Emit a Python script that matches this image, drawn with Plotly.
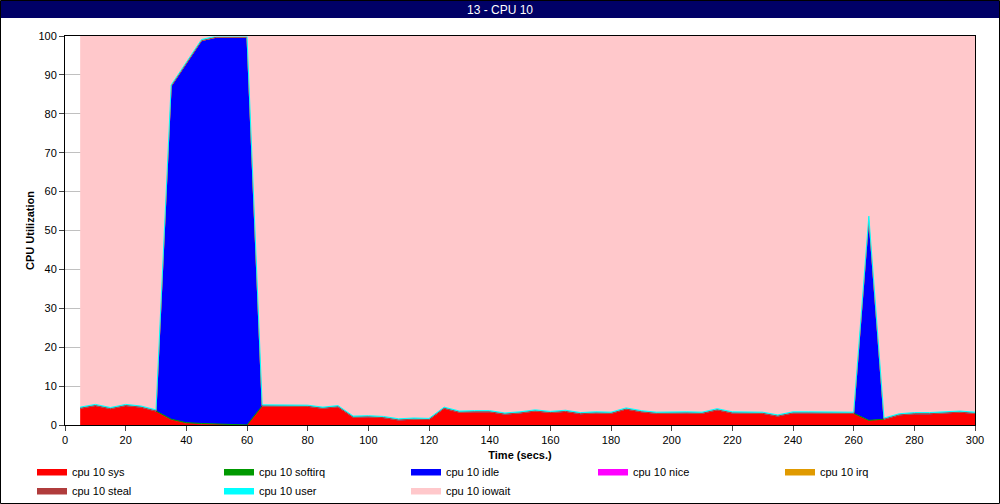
import plotly.graph_objects as go

# time axis (secs.)
time_s = list(range(5, 301, 5))

sys_vals = [4.3, 5.0, 4.2, 5.0, 4.6, 3.6, 1.3, 0.4, 0.2, 0.1, 0.0, 0.0,
            4.9, 4.9, 4.9, 4.8, 4.3, 4.7, 2.0, 2.1, 1.9, 1.3, 1.5, 1.4,
            4.3, 3.3, 3.4, 3.4, 2.8, 3.1, 3.6, 3.2, 3.5, 2.9, 3.1, 3.0,
            4.1, 3.4, 3.0, 3.1, 3.1, 3.0, 3.9, 3.1, 3.0, 3.0, 2.3, 3.1,
            3.1, 3.1, 3.1, 3.0, 1.0, 1.5, 2.6, 2.9, 2.9, 3.1, 3.3, 3.0]

softirq_vals = [0.0] * 6 + [0.2, 0.2, 0.2, 0.2, 0.2, 0.0] + [0.0] * 40 + [0.2] + [0.0] * 7

idle_vals = [0.0] * 6 + [85.6, 92.5, 98.4, 99.4, 99.5, 99.7] + [0.0] * 40 + [52.2] + [0.0] * 7

nice_vals = [0.0] * 60
irq_vals = [0.0] * 60
steal_vals = [0.0] * 60
user_vals = [0.3] * 60

iowait_vals = [95.4, 94.7, 95.5, 94.7, 95.1, 96.1, 12.6, 6.6, 0.9, 0.0, 0.0, 0.0,
               94.8, 94.8, 94.8, 94.9, 95.4, 95.0, 97.7, 97.6, 97.8, 98.4, 98.2, 98.3,
               95.4, 96.4, 96.3, 96.3, 96.9, 96.6, 96.1, 96.5, 96.2, 96.8, 96.6, 96.7,
               95.6, 96.3, 96.7, 96.6, 96.6, 96.7, 95.8, 96.6, 96.7, 96.7, 97.4, 96.6,
               96.6, 96.6, 96.6, 96.7, 46.3, 98.2, 97.1, 96.8, 96.8, 96.6, 96.4, 96.7]

SERIES = [
    ("cpu 10 sys", sys_vals, "#ff0000"),
    ("cpu 10 softirq", softirq_vals, "#009900"),
    ("cpu 10 idle", idle_vals, "#0000ff"),
    ("cpu 10 nice", nice_vals, "#ff00ff"),
    ("cpu 10 irq", irq_vals, "#e09a00"),
    ("cpu 10 steal", steal_vals, "#b03c3c"),
    ("cpu 10 user", user_vals, "#00ffff"),
    ("cpu 10 iowait", iowait_vals, "#ffc8cb"),
]

W, H = 1000, 504
L, R, T, B = 65, 25, 36, 79
PW, PH = W - L - R, H - T - B


def px_x(p):
    return (p - L) / PW


def px_y(p):
    return (H - B - p) / PH


FONT = "Liberation Sans, Arial, sans-serif"

fig = go.Figure()
for name, vals, color in SERIES:
    fig.add_trace(go.Scatter(
        x=time_s, y=vals, name=name,
        mode="lines", stackgroup="one",
        line=dict(color=color, width=1),
        fillcolor=color,
    ))

# title bar
fig.add_shape(type="rect", xref="paper", yref="paper",
              x0=px_x(1), x1=px_x(999), y0=px_y(18), y1=px_y(1),
              fillcolor="#000066", line_width=0, layer="below")
fig.add_annotation(text="13 - CPU 10", xref="paper", yref="paper",
                   x=px_x(500), y=px_y(9.5), xanchor="center", yanchor="middle",
                   showarrow=False,
                   font=dict(family=FONT, size=12, color="white"))
# outer frame
fig.add_shape(type="rect", xref="paper", yref="paper",
              x0=px_x(0.5), x1=px_x(999.5), y0=px_y(503.5), y1=px_y(0.5),
              line=dict(color="black", width=1), fillcolor="rgba(0,0,0,0)")

fig.update_layout(
    width=W, height=H,
    margin=dict(l=L, r=R, t=T, b=B, autoexpand=False),
    paper_bgcolor="white", plot_bgcolor="white",
    font=dict(family=FONT, size=11, color="black"),
    showlegend=True,
    legend=dict(
        orientation="h", x=px_x(32), y=px_y(457), xanchor="left", yanchor="top",
        entrywidth=142, entrywidthmode="pixels", itemwidth=30,
        font=dict(family=FONT, size=11), traceorder="normal",
        bgcolor="rgba(0,0,0,0)",
    ),
    hovermode="x",
)
fig.update_xaxes(
    range=[0, 300], dtick=20, ticks="outside", ticklen=5,
    showline=True, linecolor="black", mirror=True, showgrid=False, zeroline=False,
    title=dict(text="<b>Time (secs.)</b>", font=dict(size=11), standoff=6),
)
fig.update_yaxes(
    range=[0, 100], dtick=10, ticks="outside", ticklen=5,
    showline=True, linecolor="black", mirror=True,
    showgrid=True, gridcolor="#c0c0c0", zeroline=False,
    title=dict(text="<b>CPU Utilization</b>", font=dict(size=11), standoff=1),
)

fig.write_html("out.html", config={"displayModeBar": False},
               post_script="document.body.style.margin='0';")
